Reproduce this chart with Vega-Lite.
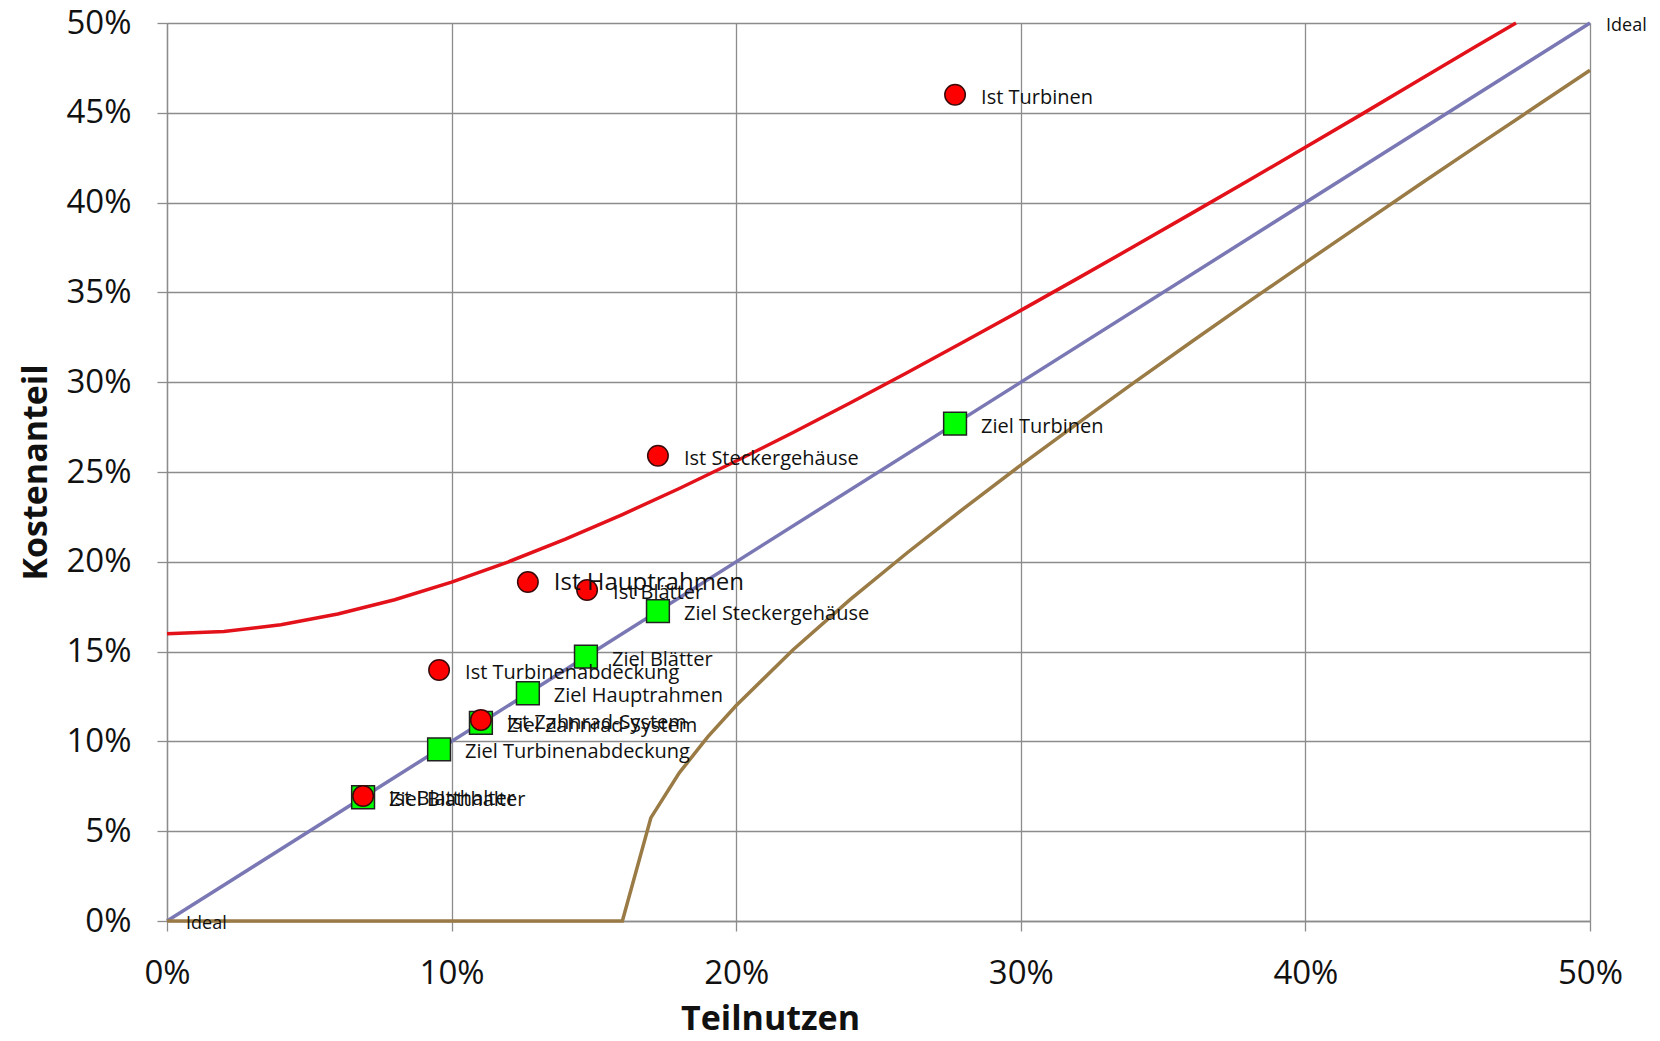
{
  "$schema": "https://vega.github.io/schema/vega-lite/v6.json",
  "width": 1423,
  "height": 898,
  "autosize": {"type": "none"},
  "padding": {"left": 167, "top": 23, "right": 70, "bottom": 120},
  "background": "white",
  "config": {
    "view": {"stroke": null},
    "font": "Open Sans",
    "axis": {
      "gridColor": "#8c8c8c", "gridWidth": 1.3, "gridOpacity": 1,
      "domainColor": "#8c8c8c", "domainWidth": 1.3,
      "tickColor": "#8c8c8c", "tickWidth": 1.3, "tickSize": 10,
      "labelFont": "Open Sans", "labelFontSize": 33, "labelColor": "#111111",
      "titleFont": "Open Sans", "titleFontSize": 34, "titleFontWeight": "bold", "titleColor": "#111111"
    }
  },
  "datasets": {
    "kurven": [
      {"kurve": "Obergrenze", "x": 0.00, "y": 0.1600},
      {"kurve": "Obergrenze", "x": 0.02, "y": 0.1612},
      {"kurve": "Obergrenze", "x": 0.04, "y": 0.1649},
      {"kurve": "Obergrenze", "x": 0.06, "y": 0.1709},
      {"kurve": "Obergrenze", "x": 0.08, "y": 0.1789},
      {"kurve": "Obergrenze", "x": 0.10, "y": 0.1887},
      {"kurve": "Obergrenze", "x": 0.12, "y": 0.2000},
      {"kurve": "Obergrenze", "x": 0.14, "y": 0.2126},
      {"kurve": "Obergrenze", "x": 0.16, "y": 0.2263},
      {"kurve": "Obergrenze", "x": 0.18, "y": 0.2408},
      {"kurve": "Obergrenze", "x": 0.20, "y": 0.2561},
      {"kurve": "Obergrenze", "x": 0.22, "y": 0.2720},
      {"kurve": "Obergrenze", "x": 0.24, "y": 0.2884},
      {"kurve": "Obergrenze", "x": 0.26, "y": 0.3053},
      {"kurve": "Obergrenze", "x": 0.28, "y": 0.3225},
      {"kurve": "Obergrenze", "x": 0.30, "y": 0.3400},
      {"kurve": "Obergrenze", "x": 0.32, "y": 0.3578},
      {"kurve": "Obergrenze", "x": 0.34, "y": 0.3758},
      {"kurve": "Obergrenze", "x": 0.36, "y": 0.3940},
      {"kurve": "Obergrenze", "x": 0.38, "y": 0.4123},
      {"kurve": "Obergrenze", "x": 0.40, "y": 0.4308},
      {"kurve": "Obergrenze", "x": 0.42, "y": 0.4494},
      {"kurve": "Obergrenze", "x": 0.44, "y": 0.4682},
      {"kurve": "Obergrenze", "x": 0.46, "y": 0.4870},
      {"kurve": "Obergrenze", "x": 0.474, "y": 0.5000},
      {"kurve": "Ideal", "x": 0.0, "y": 0.0},
      {"kurve": "Ideal", "x": 0.5, "y": 0.5},
      {"kurve": "Untergrenze", "x": 0.00, "y": 0.0},
      {"kurve": "Untergrenze", "x": 0.16, "y": 0.0},
      {"kurve": "Untergrenze", "x": 0.17, "y": 0.0574},
      {"kurve": "Untergrenze", "x": 0.18, "y": 0.0825},
      {"kurve": "Untergrenze", "x": 0.19, "y": 0.1025},
      {"kurve": "Untergrenze", "x": 0.20, "y": 0.1200},
      {"kurve": "Untergrenze", "x": 0.22, "y": 0.1510},
      {"kurve": "Untergrenze", "x": 0.24, "y": 0.1789},
      {"kurve": "Untergrenze", "x": 0.26, "y": 0.2049},
      {"kurve": "Untergrenze", "x": 0.28, "y": 0.2298},
      {"kurve": "Untergrenze", "x": 0.30, "y": 0.2538},
      {"kurve": "Untergrenze", "x": 0.32, "y": 0.2771},
      {"kurve": "Untergrenze", "x": 0.34, "y": 0.3000},
      {"kurve": "Untergrenze", "x": 0.36, "y": 0.3225},
      {"kurve": "Untergrenze", "x": 0.38, "y": 0.3447},
      {"kurve": "Untergrenze", "x": 0.40, "y": 0.3666},
      {"kurve": "Untergrenze", "x": 0.42, "y": 0.3883},
      {"kurve": "Untergrenze", "x": 0.44, "y": 0.4099},
      {"kurve": "Untergrenze", "x": 0.46, "y": 0.4313},
      {"kurve": "Untergrenze", "x": 0.48, "y": 0.4525},
      {"kurve": "Untergrenze", "x": 0.50, "y": 0.4737}
    ],
    "punkte": [
      {"typ": "Ziel", "label": "Ziel Turbinen", "x": 0.2769, "y": 0.2769},
      {"typ": "Ziel", "label": "Ziel Steckergehäuse", "x": 0.1725, "y": 0.1725},
      {"typ": "Ziel", "label": "Ziel Blätter", "x": 0.1472, "y": 0.1472},
      {"typ": "Ziel", "label": "Ziel Hauptrahmen", "x": 0.1268, "y": 0.1268},
      {"typ": "Ziel", "label": "Ziel Zahnrad-System", "x": 0.1103, "y": 0.1103},
      {"typ": "Ziel", "label": "Ziel Turbinenabdeckung", "x": 0.0956, "y": 0.0956},
      {"typ": "Ziel", "label": "Ziel Blatthalter", "x": 0.0689, "y": 0.0689},
      {"typ": "Ist", "label": "Ist Turbinen", "x": 0.2769, "y": 0.4600},
      {"typ": "Ist", "label": "Ist Steckergehäuse", "x": 0.1725, "y": 0.2590},
      {"typ": "Ist", "label": "Ist Blätter", "x": 0.1476, "y": 0.1843},
      {"typ": "Ist", "label": "Ist Hauptrahmen", "x": 0.1268, "y": 0.1887},
      {"typ": "Ist", "label": "Ist Zahnrad-System", "x": 0.1103, "y": 0.1119},
      {"typ": "Ist", "label": "Ist Turbinenabdeckung", "x": 0.0956, "y": 0.1398},
      {"typ": "Ist", "label": "Ist Blatthalter", "x": 0.0689, "y": 0.0696}
    ],
    "ideal": [
      {"text": "Ideal", "x": 0.0, "y": 0.0},
      {"text": "Ideal", "x": 0.5, "y": 0.5}
    ]
  },
  "encoding": {
    "x": {"field": "x", "type": "quantitative",
      "scale": {"domain": [0, 0.5], "nice": false, "zero": false},
      "axis": {"values": [0, 0.1, 0.2, 0.3, 0.4, 0.5], "format": ".0%", "title": "Teilnutzen", "labelPadding": 26, "titlePadding": 12, "labelFlush": false, "titleX": 603, "titleAnchor": null, "titleAlign": "center"}},
    "y": {"field": "y", "type": "quantitative",
      "scale": {"domain": [0, 0.5], "nice": false, "zero": false},
      "axis": {"values": [0, 0.05, 0.1, 0.15, 0.2, 0.25, 0.3, 0.35, 0.4, 0.45, 0.5], "format": ".0%", "title": "Kostenanteil", "labelPadding": 26, "titlePadding": 12, "labelFlush": false}}
  },
  "layer": [
    {
      "data": {"name": "kurven"},
      "mark": {"type": "line", "strokeWidth": 3.5},
      "encoding": {
        "detail": {"field": "kurve", "type": "nominal"},
        "color": {"field": "kurve", "type": "nominal", "legend": null,
          "scale": {"domain": ["Obergrenze", "Ideal", "Untergrenze"], "range": ["#e3121a", "#7a78b4", "#9a7b45"]}}
      }
    },
    {
      "data": {"name": "ideal"},
      "transform": [{"filter": "datum.x == 0"}],
      "mark": {"type": "text", "align": "left", "baseline": "middle", "dx": 19, "dy": 3, "fontSize": 18, "color": "#111111"},
      "encoding": {"text": {"field": "text"}}
    },
    {
      "data": {"name": "ideal"},
      "transform": [{"filter": "datum.x == 0.5"}],
      "mark": {"type": "text", "align": "left", "baseline": "middle", "dx": 16, "dy": 3, "fontSize": 18, "color": "#111111"},
      "encoding": {"text": {"field": "text"}}
    },
    {
      "data": {"name": "punkte"},
      "transform": [{"filter": "datum.typ == 'Ziel'"}],
      "mark": {"type": "point", "shape": "square", "filled": true, "size": 520, "color": "#00ff00", "stroke": "#222222", "strokeWidth": 1.5, "opacity": 1}
    },
    {
      "data": {"name": "punkte"},
      "transform": [{"filter": "datum.typ == 'Ist'"}],
      "mark": {"type": "point", "shape": "circle", "filled": true, "size": 420, "color": "#ff0000", "stroke": "#3a0a0a", "strokeWidth": 1.5, "opacity": 1}
    },
    {
      "data": {"name": "punkte"},
      "transform": [{"filter": "datum.label != 'Ist Hauptrahmen'"}],
      "mark": {"type": "text", "align": "left", "baseline": "middle", "dx": 26, "dy": 3, "fontSize": 20, "color": "#111111"},
      "encoding": {"text": {"field": "label"}}
    },
    {
      "data": {"name": "punkte"},
      "transform": [{"filter": "datum.label == 'Ist Hauptrahmen'"}],
      "mark": {"type": "text", "align": "left", "baseline": "middle", "dx": 26, "dy": 1, "fontSize": 24, "color": "#111111"},
      "encoding": {"text": {"field": "label"}}
    }
  ]
}
